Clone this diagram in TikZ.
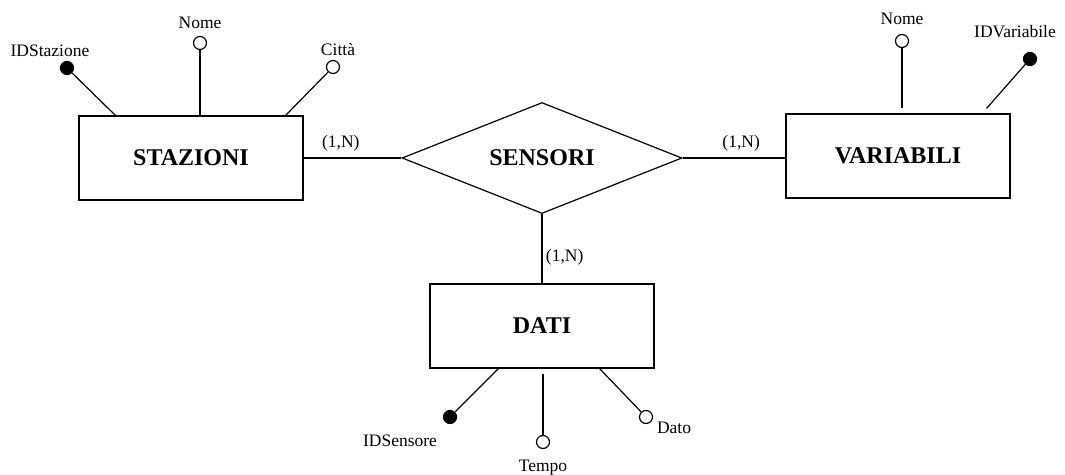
\documentclass[tikz,border=0pt]{standalone}
\usepackage{fontspec}
\setmainfont{Liberation Serif}
\usetikzlibrary{shapes.geometric}
\newcommand{\bignames}{\fontsize{24}{28}\selectfont\bfseries}
\newcommand{\smallnames}{\fontsize{17.5}{20}\selectfont}

\begin{document}
\begin{tikzpicture}[x=1pt,y=-1pt,line width=1.2pt,
  entity/.style={rectangle, draw=black, minimum width=224pt, minimum height=84pt, font=\bignames},
  relation/.style={diamond, aspect=2.5, draw=black, minimum width=280pt, minimum height=111pt, inner sep=0pt, font=\bignames},
  attr/.style={circle, draw=black, fill=white, inner sep=0pt, minimum size=13pt},
  keyattr/.style={attr, fill=black},
  every label/.style={font=\smallnames},
  card/.style={font=\smallnames}]

      \useasboundingbox (0,0) rectangle (1065,474);

      % entities
      \node [entity] (staz) at (191,158) {STAZIONI};
      \node [entity] (var) at (898,156) {VARIABILI};
      \node [entity] (dati) at (542,326) {DATI};

      % relationship
      \node [relation] (sens) at (542,158) {SENSORI};

      \draw (staz) -- node [card, above, pos=0.38, yshift=3pt] {(1,N)} (sens);
      \draw (sens.east) -- node [card, above, pos=0.57, yshift=3pt] {(1,N)}
      (sens.east -| var.west);
      \draw (sens) -- node [card, right, pos=0.62] {(1,N)} (dati);

      % attributes of STAZIONI
      \node [keyattr,
      label={[xshift=-17pt]above:IDStazione}] (idstaz) at (67,68) {};
      \node [attr,
      label={[yshift=3pt]above:Nome}] (nomestaz) at (200,43) {};
      \node [attr,
      label={[xshift=5pt]above:Città}] (citta) at (333,67) {};
      \draw (idstaz) -- ([xshift=37pt]staz.north west);
      \draw (nomestaz) -- (nomestaz |- staz.north);
      \draw (citta) -- ([xshift=-18pt]staz.north east);

      % attributes of VARIABILI
      \node [attr,
      label={[yshift=5pt]above:Nome}] (nomevar) at (902,41) {};
      \node [keyattr,
      label={[xshift=-15pt, yshift=10pt]above:IDVariabile}] (idvar) at (1030,59) {};
      \draw (nomevar) -- ([yshift=5pt]nomevar |- var.north);
      \draw (idvar) -- ([xshift=-24pt, yshift=5pt]var.north east);

      % attributes of DATI
      \node [keyattr,
      label={[xshift=-50pt, yshift=-7pt]below:IDSensore}] (idsens) at (450,417) {};
      \node [attr,
      label={[yshift=-7pt]below:Tempo}] (tempo) at (543,442) {};
      \node [attr,
      label={[yshift=-10.5pt]right:Dato}] (dato) at (646,417) {};
      \draw (idsens) -- ([xshift=69pt]dati.south west);
      \draw (tempo) -- ([yshift=-5pt]tempo |- dati.south);
      \draw (dato) -- ([xshift=-55pt]dati.south east);

    \end{tikzpicture}
\end{document}
